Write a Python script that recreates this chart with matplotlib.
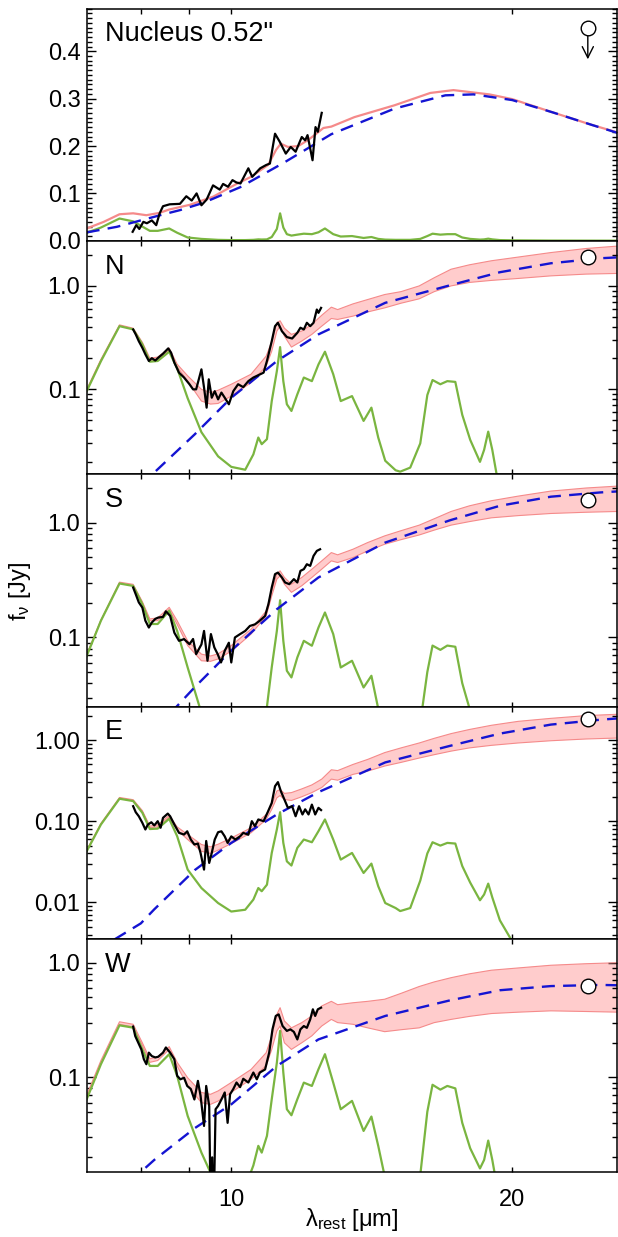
import matplotlib
matplotlib.use('Agg')
import matplotlib.pyplot as plt
from matplotlib.ticker import FixedLocator, LogLocator, MultipleLocator, NullFormatter, FuncFormatter

plt.rcParams['font.family'] = ['Liberation Sans', 'DejaVu Sans']
plt.rcParams['mathtext.fontset'] = 'custom'
plt.rcParams['mathtext.rm'] = 'Liberation Sans'
plt.rcParams['mathtext.it'] = 'Liberation Sans:italic'

# ---- starburst (PAH) template, same wavelength grid in every panel ----
wl_sb = [7.0, 7.25, 7.59, 7.85, 8.03, 8.18, 8.34, 8.58, 8.75, 8.98, 9.29, 9.68, 10.0, 10.35, 10.56,
         10.69, 10.78, 10.92, 11.05, 11.19, 11.28, 11.37, 11.47, 11.6, 11.77, 11.96, 12.2, 12.4, 12.6,
         12.86, 13.1, 13.47, 13.86, 14.13, 14.37, 14.62, 15.0, 15.17, 15.55, 15.94, 16.22, 16.43, 16.75,
         17.04, 17.38, 17.68, 18.03, 18.47, 18.66, 18.85, 19.04, 19.4, 20.0, 22.0, 26.0]
sb_nuc = [0.017, 0.028, 0.047, 0.041, 0.030, 0.021, 0.021, 0.026, 0.017, 0.007, 0.004, 0.002, 0.0015, 0.0015, 0.002,
          0.003, 0.0027, 0.003, 0.008, 0.025, 0.058, 0.028, 0.014, 0.011, 0.013, 0.015, 0.014, 0.018, 0.026,
          0.014, 0.009, 0.010, 0.006, 0.008, 0.004, 0.0025, 0.002, 0.002, 0.002, 0.004, 0.010, 0.015, 0.013,
          0.014, 0.014, 0.007, 0.004, 0.0025, 0.003, 0.0045, 0.003, 0.0015, 0.001, 0.0005, 0.0003]
sb_N = [0.096, 0.187, 0.408, 0.38, 0.272, 0.185, 0.188, 0.231, 0.160, 0.082, 0.0385, 0.0225, 0.0178, 0.0167, 0.0235,
        0.0342, 0.0295, 0.033, 0.077, 0.150, 0.256, 0.120, 0.0717, 0.0618, 0.0895, 0.130, 0.120, 0.174, 0.231,
        0.140, 0.077, 0.086, 0.0495, 0.0665, 0.0342, 0.0204, 0.0165, 0.016, 0.0175, 0.030, 0.088, 0.123, 0.112,
        0.120, 0.118, 0.0567, 0.0325, 0.0199, 0.026, 0.039, 0.026, 0.010, 0.005, 0.003, 0.002]
sb_S = [0.069, 0.140, 0.295, 0.281, 0.195, 0.131, 0.131, 0.171, 0.114, 0.0548, 0.022, 0.012, 0.0094, 0.0098, 0.0126,
        0.019, 0.0165, 0.025, 0.055, 0.114, 0.211, 0.0935, 0.0513, 0.0449, 0.067, 0.0935, 0.0847, 0.122, 0.165,
        0.107, 0.0548, 0.0627, 0.0367, 0.0464, 0.024, 0.014, 0.0105, 0.0102, 0.011, 0.018, 0.05, 0.085, 0.078,
        0.085, 0.083, 0.04, 0.023, 0.014, 0.018, 0.024, 0.018, 0.007, 0.0035, 0.002, 0.0015]
sb_E = [0.0426, 0.091, 0.189, 0.177, 0.127, 0.080, 0.081, 0.107, 0.0653, 0.0253, 0.0150, 0.0098, 0.0077, 0.0081, 0.0108,
        0.0150, 0.0137, 0.0165, 0.0406, 0.079, 0.129, 0.054, 0.032, 0.0284, 0.0469, 0.0594, 0.055, 0.0753, 0.105,
        0.0594, 0.0336, 0.0406, 0.023, 0.030, 0.0158, 0.0098, 0.0085, 0.0078, 0.0085, 0.0185, 0.040, 0.055, 0.050,
        0.054, 0.053, 0.028, 0.0175, 0.0106, 0.0125, 0.017, 0.0115, 0.006, 0.0033, 0.002, 0.001]
sb_W = [0.0643, 0.130, 0.284, 0.271, 0.175, 0.1256, 0.1256, 0.159, 0.103, 0.046, 0.022, 0.0105, 0.0085, 0.011, 0.017,
        0.0252, 0.022, 0.0308, 0.0643, 0.134, 0.254, 0.110, 0.0526, 0.0466, 0.0643, 0.0898, 0.084, 0.1175, 0.159,
        0.0898, 0.0526, 0.0622, 0.034, 0.0454, 0.0252, 0.013, 0.009, 0.0088, 0.0095, 0.014, 0.05, 0.086, 0.078,
        0.084, 0.08, 0.04, 0.024, 0.016, 0.019, 0.028, 0.019, 0.008, 0.004, 0.002, 0.0015]

# ---- total model range (pink band) ----
wl_mod = [7.0, 7.25, 7.59, 7.85, 8.03, 8.18, 8.34, 8.58, 8.75, 8.98, 9.29, 9.5, 9.68, 10.0, 10.5, 10.9, 11.05,
          11.19, 11.28, 11.4, 11.6, 11.9, 12.2, 12.5, 12.8, 13.0, 13.5, 14.0, 14.6, 15.2, 15.9, 16.5, 17.2,
          18.0, 19.0, 20.3, 22.0, 24.0, 26.0]
lo_N = [0.097, 0.19, 0.41, 0.382, 0.275, 0.19, 0.195, 0.24, 0.165, 0.12, 0.077, 0.072, 0.073, 0.086, 0.116, 0.168,
        0.234, 0.365, 0.41, 0.327, 0.256, 0.293, 0.34, 0.408, 0.484, 0.474, 0.51, 0.56, 0.613, 0.68, 0.75, 0.88,
        1.0, 1.08, 1.13, 1.18, 1.25, 1.3, 1.32]
hi_N = [0.1, 0.195, 0.42, 0.39, 0.285, 0.2, 0.205, 0.25, 0.175, 0.135, 0.1, 0.093, 0.098, 0.112, 0.14, 0.21,
        0.29, 0.44, 0.46, 0.39, 0.34, 0.366, 0.424, 0.52, 0.623, 0.59, 0.67, 0.738, 0.825, 0.88, 1.0, 1.2,
        1.45, 1.6, 1.75, 1.9, 2.1, 2.3, 2.43]
lo_S = [0.07, 0.14, 0.297, 0.282, 0.2, 0.14, 0.14, 0.175, 0.13, 0.085, 0.0627, 0.062, 0.065, 0.076, 0.107, 0.154,
        0.23, 0.322, 0.344, 0.291, 0.247, 0.282, 0.333, 0.393, 0.464, 0.449, 0.496, 0.567, 0.648, 0.71, 0.78, 0.86,
        0.95, 1.02, 1.1, 1.15, 1.2, 1.23, 1.25]
hi_S = [0.071, 0.142, 0.303, 0.29, 0.205, 0.145, 0.148, 0.183, 0.14, 0.0935, 0.0716, 0.069, 0.072, 0.085, 0.118, 0.17,
        0.255, 0.356, 0.38, 0.333, 0.291, 0.333, 0.393, 0.464, 0.548, 0.524, 0.586, 0.67, 0.766, 0.85, 0.95, 1.08,
        1.25, 1.4, 1.55, 1.7, 1.88, 2.0, 2.08]
lo_E = [0.043, 0.092, 0.19, 0.178, 0.13, 0.083, 0.085, 0.112, 0.078, 0.0594, 0.0426, 0.04, 0.044, 0.053, 0.072, 0.105,
        0.14, 0.194, 0.207, 0.185, 0.18, 0.2, 0.225, 0.26, 0.33, 0.32, 0.377, 0.414, 0.478, 0.53, 0.6, 0.66,
        0.73, 0.8, 0.86, 0.92, 0.98, 1.03, 1.06]
hi_E = [0.044, 0.094, 0.196, 0.184, 0.135, 0.087, 0.09, 0.118, 0.085, 0.0685, 0.0516, 0.0483, 0.052, 0.062, 0.083, 0.121,
        0.16, 0.235, 0.246, 0.22, 0.225, 0.25, 0.28, 0.33, 0.43, 0.42, 0.5, 0.577, 0.7, 0.8, 0.92, 1.05,
        1.2, 1.35, 1.52, 1.7, 1.85, 2.0, 2.08]
lo_W = [0.066, 0.133, 0.29, 0.275, 0.19, 0.135, 0.14, 0.175, 0.125, 0.084, 0.06, 0.058, 0.062, 0.074, 0.096, 0.126,
        0.175, 0.254, 0.28, 0.2, 0.175, 0.2, 0.23, 0.28, 0.32, 0.3, 0.29, 0.27, 0.25, 0.26, 0.27, 0.3,
        0.32, 0.34, 0.36, 0.37, 0.38, 0.375, 0.37]
hi_W = [0.07, 0.14, 0.305, 0.29, 0.2, 0.145, 0.15, 0.185, 0.135, 0.099, 0.0737, 0.071, 0.076, 0.09, 0.117, 0.164,
        0.23, 0.354, 0.405, 0.31, 0.27, 0.3, 0.343, 0.419, 0.46, 0.43, 0.447, 0.46, 0.48, 0.54, 0.62, 0.68,
        0.74, 0.8, 0.86, 0.9, 0.95, 0.98, 1.0]

# ---- AGN torus component (blue dashed) ----
wl_agn = [7.5, 8.0, 8.27, 9.14, 10.0, 11.19, 12.4, 14.62, 17.17, 19.4, 22.0, 24.86, 26.0]
agn_N = [0.0055, 0.011, 0.0157, 0.0368, 0.083, 0.1876, 0.34, 0.686, 1.016, 1.356, 1.655, 1.85, 1.89]
agn_S = [0.006, 0.011, 0.0155, 0.037, 0.077, 0.176, 0.333, 0.67, 1.05, 1.4, 1.68, 1.83, 1.87]
agn_E = [0.0035, 0.0055, 0.0082, 0.025, 0.054, 0.121, 0.228, 0.53, 0.85, 1.2, 1.55, 1.78, 1.85]
agn_W = [0.009, 0.0149, 0.019, 0.036, 0.058, 0.1256, 0.214, 0.343, 0.47, 0.575, 0.625, 0.64, 0.635]

# ---- nucleus panel (linear) ----
wl_nuc_mod = [7.0, 7.3, 7.59, 7.85, 8.11, 8.38, 8.58, 9.03, 9.56, 10.13, 10.5, 10.95, 11.17, 11.3, 11.5, 11.8,
              12.07, 12.3, 12.55, 12.8, 13.55, 14.96, 16.34, 17.3, 18.9, 20.0, 22.1, 24.3, 26.0]
mod_nuc = [0.026, 0.04, 0.056, 0.058, 0.054, 0.059, 0.066, 0.076, 0.093, 0.12, 0.135, 0.16, 0.192, 0.205, 0.198, 0.2,
           0.212, 0.224, 0.238, 0.241, 0.261, 0.286, 0.312, 0.318, 0.309, 0.299, 0.271, 0.245, 0.228]
wl_nuc_agn = [7.0, 7.54, 8.45, 8.81, 9.33, 10.22, 11.39, 12.8, 14.96, 16.96, 18.18, 20.0, 22.1, 24.3, 26.0]
agn_nuc = [0.0177, 0.0295, 0.0556, 0.0647, 0.08, 0.113, 0.165, 0.225, 0.279, 0.307, 0.309, 0.297, 0.271, 0.245, 0.227]

# ---- observed spectra ----
wl_obs_nuc = [7.84, 7.91, 7.97, 8.05, 8.12, 8.22, 8.31, 8.38, 8.45, 8.59, 8.81, 8.95, 9.07, 9.18, 9.29, 9.41,
              9.56, 9.72, 9.8, 9.92, 10.03, 10.13, 10.23, 10.43, 10.53, 10.74, 10.9, 11.0, 11.14, 11.27,
              11.44, 11.58, 11.72, 11.9, 12.0, 12.07, 12.22, 12.31, 12.38, 12.5]
obs_nuc = [0.019, 0.033, 0.025, 0.040, 0.037, 0.043, 0.033, 0.058, 0.073, 0.077, 0.078, 0.094, 0.085, 0.100, 0.075, 0.087,
           0.117, 0.108, 0.12, 0.114, 0.128, 0.123, 0.121, 0.153, 0.135, 0.153, 0.16, 0.163, 0.226, 0.209,
           0.184, 0.198, 0.188, 0.219, 0.212, 0.223, 0.17, 0.24, 0.23, 0.27]
wl_obs_N = [7.85, 7.9, 7.96, 8.03, 8.09, 8.16, 8.22, 8.29, 8.35, 8.45, 8.56, 8.62, 8.69, 8.79, 8.9, 9.02, 9.1,
            9.17, 9.29, 9.35, 9.41, 9.46, 9.53, 9.6, 9.68, 9.76, 9.84, 9.94, 10.05, 10.17, 10.3, 10.43, 10.56,
            10.69, 10.83, 10.92, 11.05, 11.14, 11.22, 11.33, 11.47, 11.62, 11.77, 11.86, 11.96, 12.05, 12.15,
            12.25, 12.35, 12.4, 12.48]
obs_N = [0.379, 0.34, 0.292, 0.252, 0.218, 0.188, 0.2, 0.19, 0.202, 0.221, 0.249, 0.226, 0.181, 0.145, 0.13, 0.112, 0.1,
         0.1, 0.156, 0.104, 0.0665, 0.125, 0.083, 0.096, 0.08, 0.093, 0.083, 0.0717, 0.096, 0.112, 0.105, 0.12, 0.13,
         0.137, 0.145, 0.188, 0.292, 0.408, 0.44, 0.365, 0.32, 0.31, 0.352, 0.394, 0.379, 0.44, 0.408,
         0.44, 0.591, 0.549, 0.613]
wl_obs_S = [7.85, 7.9, 7.96, 8.03, 8.09, 8.16, 8.22, 8.29, 8.35, 8.45, 8.51, 8.6, 8.69, 8.79, 8.9, 9.02, 9.1,
            9.17, 9.29, 9.35, 9.43, 9.51, 9.59, 9.67, 9.75, 9.84, 9.94, 10.0, 10.09, 10.22, 10.35, 10.47, 10.6,
            10.73, 10.87, 10.96, 11.05, 11.14, 11.22, 11.33, 11.42, 11.54, 11.67, 11.77, 11.86, 11.96, 12.05,
            12.15, 12.25, 12.35, 12.45]
obs_S = [0.272, 0.238, 0.202, 0.182, 0.14, 0.122, 0.135, 0.145, 0.149, 0.151, 0.169, 0.154, 0.11, 0.0935, 0.0968, 0.0873,
         0.097, 0.0716, 0.087, 0.114, 0.0627, 0.107, 0.082, 0.0716, 0.0606, 0.0766, 0.09, 0.0606, 0.1, 0.107, 0.114,
         0.126, 0.13, 0.14, 0.154, 0.195, 0.272, 0.356, 0.367, 0.333, 0.301, 0.291, 0.322, 0.301, 0.38, 0.393, 0.434,
         0.42, 0.513, 0.567, 0.586]
wl_obs_E = [7.85, 7.9, 7.96, 8.03, 8.09, 8.14, 8.21, 8.27, 8.34, 8.4, 8.45, 8.55, 8.6, 8.69, 8.79, 8.9, 8.97,
            9.05, 9.13, 9.21, 9.27, 9.35, 9.4, 9.47, 9.53, 9.6, 9.68, 9.76, 9.84, 9.91, 10.0, 10.1, 10.22, 10.3,
            10.43, 10.52, 10.6, 10.69, 10.83, 10.94, 11.05, 11.14, 11.22, 11.3, 11.4, 11.5, 11.62, 11.72, 11.82,
            11.92, 12.0, 12.1, 12.2, 12.3, 12.4, 12.48]
obs_E = [0.153, 0.129, 0.115, 0.0955, 0.079, 0.0908, 0.097, 0.0886, 0.1, 0.083, 0.11, 0.124, 0.115, 0.091, 0.0718,
         0.0685, 0.075, 0.0594, 0.0516, 0.053, 0.0406, 0.0253, 0.057, 0.0306, 0.0406, 0.0594, 0.0732, 0.075, 0.065,
         0.054, 0.065, 0.0594, 0.065, 0.0718, 0.068, 0.1, 0.0868, 0.105, 0.1, 0.129, 0.168, 0.27, 0.303, 0.235,
         0.185, 0.146, 0.153, 0.115, 0.153, 0.121, 0.14, 0.121, 0.16, 0.121, 0.146, 0.137]
wl_obs_W = [7.85, 7.89, 7.95, 8.01, 8.06, 8.11, 8.16, 8.22, 8.29, 8.35, 8.45, 8.51, 8.6, 8.69, 8.75, 8.82, 8.9,
            8.97, 9.05, 9.13, 9.21, 9.27, 9.35, 9.4, 9.47, 9.51, 9.54, 9.57, 9.62, 9.68, 9.76, 9.84, 9.91, 9.97,
            10.05, 10.13, 10.22, 10.3, 10.43, 10.56, 10.65, 10.73, 10.87, 10.98, 11.07, 11.16, 11.24, 11.35,
            11.47, 11.57, 11.67, 11.77, 11.86, 11.96, 12.05, 12.15, 12.23, 12.3, 12.38, 12.48]
obs_W = [0.277, 0.229, 0.2, 0.175, 0.1436, 0.13, 0.164, 0.153, 0.149, 0.151, 0.164, 0.182, 0.164, 0.1436, 0.103,
         0.096, 0.099, 0.084, 0.079, 0.064, 0.093, 0.069, 0.0376, 0.084, 0.056, 0.005, 0.02, 0.005, 0.0526, 0.0562,
         0.064, 0.0737, 0.04, 0.071, 0.079, 0.09, 0.082, 0.097, 0.09, 0.11, 0.096, 0.11, 0.117, 0.164, 0.262,
         0.343, 0.354, 0.28, 0.254, 0.262, 0.249, 0.214, 0.262, 0.28, 0.27, 0.32, 0.392, 0.343, 0.392, 0.405]

# ---- photometry at ~24 um ----
wl_phot = 24.1
phot_nuc_lim = 0.45
phot = [1.9, 1.58, 1.82, 0.63]

labels = ['N', 'S', 'E', 'W']
ylims = [(0.0152, 2.7), (0.025, 2.65), (0.0035, 2.58), (0.0149, 1.6)]
yfmt = ['%.1f', '%.1f', '%.2f', '%.1f']

green = '#7ab540'
pink_fill = '#ffcccc'
pink_line = '#f58a8a'
blue = '#1414d2'

fig = plt.figure(figsize=(6.18, 12.37), dpi=100)
left, width = 0.1403, 0.8581
h, b0 = 0.1881, 0.05255
axes = [fig.add_axes([left, b0 + (4 - i) * h, width, h]) for i in range(5)]

for i, ax in enumerate(axes):
    ax.set_xscale('log')
    ax.set_xlim(7.0, 25.9)
    ax.xaxis.set_major_locator(FixedLocator([10, 20]))
    ax.xaxis.set_minor_locator(FixedLocator([8, 9]))
    ax.xaxis.set_major_formatter(FuncFormatter(lambda v, p: '%d' % v))
    ax.xaxis.set_minor_formatter(NullFormatter())
    ax.tick_params(which='both', direction='in', top=True, right=True, labelsize=17, width=1.0)
    ax.tick_params(axis='y', which='major', length=6.5, pad=4.5)
    ax.tick_params(axis='y', which='minor', length=3.5)
    ax.tick_params(axis='x', which='both', length=3.5, pad=12)
    if i < 4:
        ax.tick_params(labelbottom=False)
    for s in ax.spines.values():
        s.set_linewidth(1.1)

# top panel: nucleus
ax = axes[0]
ax.plot(wl_sb, sb_nuc, color=green, lw=1.6)
ax.plot(wl_nuc_mod, mod_nuc, color=pink_line, lw=1.6)
ax.plot(wl_nuc_agn, agn_nuc, color=blue, lw=1.7, dashes=(5.5, 3.5))
ax.plot(wl_obs_nuc, obs_nuc, color='black', lw=1.6)
ax.plot(wl_phot, phot_nuc_lim, 'o', ms=10.5, mfc='white', mec='black', mew=1.0, zorder=10)
ax.annotate('', xy=(wl_phot, 0.383), xytext=(wl_phot, 0.434),
            arrowprops=dict(arrowstyle='->', color='black', lw=1.0, mutation_scale=20, shrinkA=0, shrinkB=0))
ax.set_ylim(-0.001, 0.49)
ax.yaxis.set_major_locator(MultipleLocator(0.1))
ax.yaxis.set_minor_locator(MultipleLocator(0.01))
ax.yaxis.set_major_formatter(FuncFormatter(lambda v, p: '%.1f' % v))
ax.text(0.0345, 0.89, 'Nucleus 0.52"', transform=ax.transAxes, fontsize=19.5, va='center', ha='left')

sb_list = [sb_N, sb_S, sb_E, sb_W]
lo_list = [lo_N, lo_S, lo_E, lo_W]
hi_list = [hi_N, hi_S, hi_E, hi_W]
agn_list = [agn_N, agn_S, agn_E, agn_W]
wl_obs_list = [wl_obs_N, wl_obs_S, wl_obs_E, wl_obs_W]
obs_list = [obs_N, obs_S, obs_E, obs_W]

for k in range(4):
    ax = axes[k + 1]
    ax.fill_between(wl_mod, lo_list[k], hi_list[k], facecolor=pink_fill, edgecolor='none')
    ax.plot(wl_mod, lo_list[k], color=pink_line, lw=0.8)
    ax.plot(wl_mod, hi_list[k], color=pink_line, lw=0.8)
    ax.plot(wl_sb, sb_list[k], color=green, lw=1.6)
    ax.plot(wl_agn, agn_list[k], color=blue, lw=1.7, dashes=(5.5, 3.5))
    ax.plot(wl_obs_list[k], obs_list[k], color='black', lw=1.6)
    ax.plot(wl_phot, phot[k], 'o', ms=10.5, mfc='white', mec='black', mew=1.0, zorder=10)
    ax.set_yscale('log')
    ax.set_ylim(*ylims[k])
    ax.yaxis.set_major_locator(LogLocator(base=10))
    ax.yaxis.set_minor_locator(LogLocator(base=10, subs=range(2, 10)))
    fmt = yfmt[k]
    ax.yaxis.set_major_formatter(FuncFormatter(lambda v, p, f=fmt: f % v))
    ax.yaxis.set_minor_formatter(NullFormatter())
    ax.text(0.0345, 0.89, labels[k], transform=ax.transAxes, fontsize=19.5, va='center', ha='left')

axes[-1].set_xlabel('λ$_{\\mathregular{rest}}$ [μm]', fontsize=17, labelpad=-3)
fig.text(20 / 618, 1 - 591 / 1237, 'f$_{\\mathregular{\\nu}}$ [Jy]', rotation=90, fontsize=17,
         ha='center', va='center')

fig.savefig('out.png', dpi=100)
